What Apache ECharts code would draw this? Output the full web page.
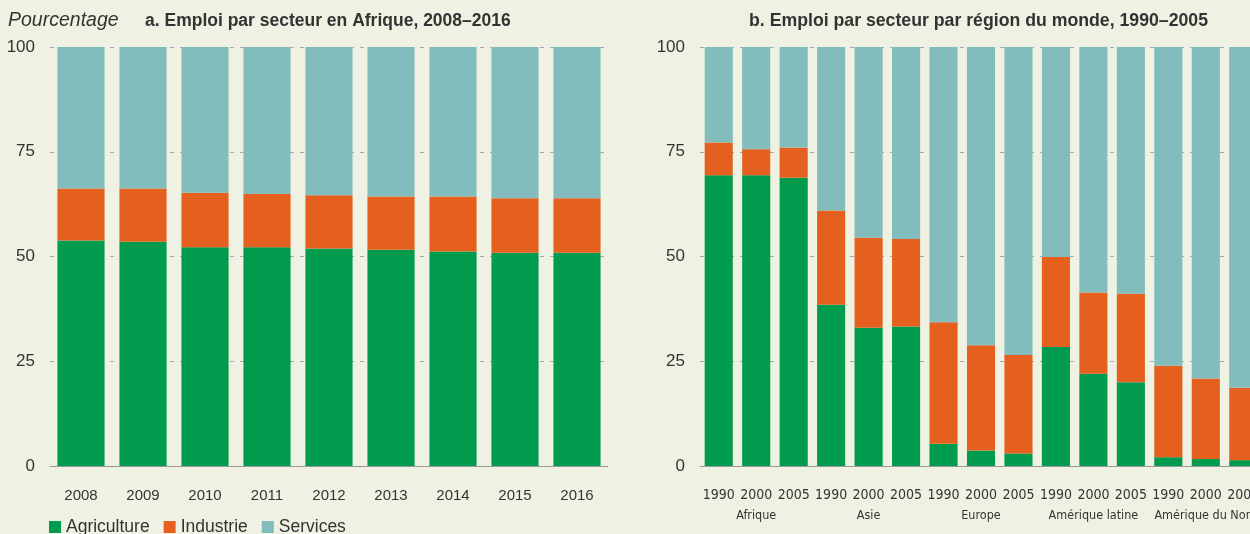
<!DOCTYPE html>
<html>
<head>
<meta charset="utf-8">
<script src="https://cdn.jsdelivr.net/npm/echarts@6/dist/echarts.min.js"></script>
<style>
  html, body { margin: 0; padding: 0; background: #eff2e2; }
  #chart { width: 1250px; height: 534px; }
</style>
</head>
<body>
<div id="chart"></div>
<script>
  // panneau a : Afrique 2008-2016
  var years = ['2008', '2009', '2010', '2011', '2012', '2013', '2014', '2015', '2016']
  var afrAgri = [53.8, 53.5, 52.2, 52.2, 51.9, 51.6, 51.2, 50.9, 50.9]
  var afrInd = [12.4, 12.7, 13.0, 12.7, 12.7, 12.7, 13.1, 13.0, 13.0]
  var afrServ = [33.8, 33.8, 34.8, 35.1, 35.4, 35.7, 35.7, 36.1, 36.1]

  // panneau b : regions du monde 1990-2005
  var periods = ['1990', '2000', '2005', '1990', '2000', '2005', '1990', '2000', '2005',
    '1990', '2000', '2005', '1990', '2000', '2005']
  var regions = ['Afrique', 'Asie', 'Europe', 'Amérique latine', 'Amérique du Nord']
  var monAgri = [69.4, 69.4, 68.8, 38.5, 33.0, 33.3, 5.3, 3.7, 3.0, 28.4, 22.0, 20.0, 2.1, 1.7, 1.4]
  var monInd = [7.8, 6.2, 7.2, 22.5, 21.5, 20.9, 29.0, 25.1, 23.5, 21.5, 19.4, 21.1, 21.8, 19.2, 17.3]
  var monServ = [22.8, 24.4, 24.0, 39.0, 45.5, 45.8, 65.7, 71.2, 73.5, 50.1, 58.6, 58.9, 76.1, 79.1, 81.3]

  var yTicks = [0, 25, 50, 75, 100]

  var colors = { agri: '#009b4d', ind: '#e5601f', serv: '#82bcbd' }
  var font = "'Liberation Sans', Arial, sans-serif"
  var narrow = "'Liberation Sans Narrow', 'DejaVu Sans Condensed', sans-serif"

  var myChart = echarts.init(document.getElementById('chart'))

  var yAxisStyle = {
    type: 'value',
    min: yTicks[0],
    max: yTicks[yTicks.length - 1],
    interval: 25,
    axisLine: { show: false },
    axisTick: { show: false },
    axisLabel: { color: '#333', fontSize: 17, fontFamily: font, margin: 15 },
    splitLine: {
      show: true,
      lineStyle: { type: [4, 6], color: '#a8a8a8', width: 1 }
    }
  }

  function bar(name, grid, data, color, gap) {
    return {
      name: name,
      type: 'bar',
      stack: 'g' + grid,
      xAxisIndex: grid === 0 ? 0 : 1,
      yAxisIndex: grid,
      barCategoryGap: gap,
      data: data,
      itemStyle: { color: color },
      emphasis: { disabled: true }
    }
  }

  var option = {
    backgroundColor: '#eff2e2',
    animation: false,
    title: [{
      text: 'Pourcentage',
      left: 3, top: 6,
      textStyle: { fontSize: 19.5, fontStyle: 'italic', fontWeight: 'normal', color: '#333', fontFamily: font }
    }, {
      text: 'a. Emploi par secteur en Afrique, 2008–2016',
      left: 140, top: 7,
      textStyle: { fontSize: 17.5, fontWeight: 'bold', color: '#333', fontFamily: font }
    }, {
      text: 'b. Emploi par secteur par région du monde, 1990–2005',
      left: 744, top: 7,
      textStyle: { fontSize: 17.7, fontWeight: 'bold', color: '#333', fontFamily: font }
    }],
    legend: {
      left: 44, top: 513,
      icon: 'rect',
      itemWidth: 12, itemHeight: 12,
      itemGap: 14,
      textStyle: { fontSize: 17.5, color: '#333', fontFamily: font },
      data: ['Agriculture', 'Industrie', 'Services']
    },
    // le panneau b deborde a droite, comme dans l'original
    grid: [
      { left: 50, width: 558, top: 47, bottom: 68, outerBoundsMode: 'none' },
      { left: 700, width: 562, top: 47, bottom: 68, outerBoundsMode: 'none' }
    ],
    xAxis: [{
      type: 'category', gridIndex: 0, data: years,
      axisLine: { lineStyle: { color: '#9a9a9a' } },
      axisTick: { show: false },
      axisLabel: { interval: 0, color: '#333', fontSize: 15, fontFamily: font, margin: 22 }
    }, {
      type: 'category', gridIndex: 1, data: periods,
      axisLine: { lineStyle: { color: '#9a9a9a' } },
      axisTick: { show: false },
      axisLabel: { interval: 0, color: '#333', fontSize: 14, fontFamily: narrow, margin: 22 }
    }, {
      // noms des regions sous les annees
      type: 'category', gridIndex: 1, data: regions, position: 'bottom',
      axisLine: { show: false },
      axisTick: { show: false },
      splitLine: { show: false },
      axisLabel: { interval: 0, color: '#333', fontSize: 12.5, fontFamily: narrow, margin: 43 }
    }],
    yAxis: [
      Object.assign({ gridIndex: 0 }, yAxisStyle),
      Object.assign({ gridIndex: 1 }, yAxisStyle)
    ],
    series: [
      bar('Agriculture', 0, afrAgri, colors.agri, '24%'),
      bar('Industrie', 0, afrInd, colors.ind, '24%'),
      bar('Services', 0, afrServ, colors.serv, '24%'),
      bar('Agriculture', 1, monAgri, colors.agri, '25%'),
      bar('Industrie', 1, monInd, colors.ind, '25%'),
      bar('Services', 1, monServ, colors.serv, '25%')
    ]
  }

  myChart.setOption(option)
</script>
</body>
</html>
